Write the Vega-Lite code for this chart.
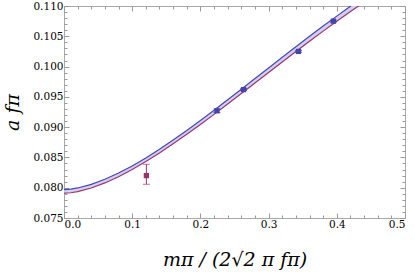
{
  "$schema": "https://vega.github.io/schema/vega-lite/v6.json",
  "width": 341,
  "height": 212,
  "autosize": {"type": "none"},
  "padding": {"left": 64, "top": 6, "right": 10, "bottom": 58},
  "background": "white",
  "config": {
    "view": {"stroke": "#a8a8a8", "strokeWidth": 1},
    "axis": {"grid": false, "tickColor": "#9a9a9a", "domain": false}
  },
  "datasets": {
    "curve": [
      {"x": 0.0, "upper": 0.0797, "lower": 0.0791},
      {"x": 0.01, "upper": 0.07977, "lower": 0.07917},
      {"x": 0.02, "upper": 0.07996, "lower": 0.07936},
      {"x": 0.04, "upper": 0.08055, "lower": 0.07995},
      {"x": 0.06, "upper": 0.08139, "lower": 0.08079},
      {"x": 0.08, "upper": 0.08242, "lower": 0.08182},
      {"x": 0.10, "upper": 0.0836, "lower": 0.083},
      {"x": 0.12, "upper": 0.08492, "lower": 0.08432},
      {"x": 0.14, "upper": 0.08634, "lower": 0.08574},
      {"x": 0.16, "upper": 0.08786, "lower": 0.08724},
      {"x": 0.18, "upper": 0.08945, "lower": 0.08881},
      {"x": 0.20, "upper": 0.0911, "lower": 0.09044},
      {"x": 0.22, "upper": 0.09279, "lower": 0.09211},
      {"x": 0.24, "upper": 0.09451, "lower": 0.09381},
      {"x": 0.26, "upper": 0.09626, "lower": 0.09554},
      {"x": 0.28, "upper": 0.09802, "lower": 0.09728},
      {"x": 0.30, "upper": 0.09978, "lower": 0.09902},
      {"x": 0.32, "upper": 0.10153, "lower": 0.10075},
      {"x": 0.34, "upper": 0.10328, "lower": 0.10248},
      {"x": 0.36, "upper": 0.105, "lower": 0.10418},
      {"x": 0.38, "upper": 0.10669, "lower": 0.10585},
      {"x": 0.40, "upper": 0.10833, "lower": 0.10747},
      {"x": 0.42, "upper": 0.10997, "lower": 0.10909},
      {"x": 0.44, "upper": 0.11152, "lower": 0.11062},
      {"x": 0.46, "upper": 0.1131, "lower": 0.1121}
    ],
    "points": [
      {"x": 0.1208, "y": 0.0820, "lo": 0.08057, "hi": 0.08387, "series": "a"},
      {"x": 0.2243, "y": 0.0927, "lo": 0.0924, "hi": 0.0930, "series": "b"},
      {"x": 0.2633, "y": 0.0962, "lo": 0.09605, "hi": 0.09635, "series": "b"},
      {"x": 0.3438, "y": 0.1025, "lo": 0.10235, "hi": 0.10265, "series": "b"},
      {"x": 0.395, "y": 0.1075, "lo": 0.10735, "hi": 0.10765, "series": "b"}
    ]
  },
  "resolve": {"axis": {"x": "independent", "y": "independent"}},
  "layer": [
    {
      "data": {"name": "curve"},
      "mark": {"type": "area", "clip": true, "color": "#d0d0f0"},
      "encoding": {
        "x": {"field": "x", "type": "quantitative", "scale": {"domain": [0, 0.5], "nice": false, "zero": false},
              "axis": {"orient": "bottom", "values": [0, 0.1, 0.2, 0.3, 0.4, 0.5], "format": ".1f", "tickSize": -5, "labelPadding": 6,
                       "labelFont": "DejaVu Serif", "labelFontSize": 10.5, "labelColor": "black",
                       "title": "mπ / (2√2 π fπ)", "titleFont": "DejaVu Serif", "titleFontSize": 19, "titlePadding": 21, "titleFontStyle": "italic", "titleFontWeight": "normal", "titleColor": "black"}},
        "y": {"field": "upper", "type": "quantitative", "scale": {"domain": [0.075, 0.11], "nice": false, "zero": false},
              "axis": {"orient": "left", "values": [0.075, 0.08, 0.085, 0.09, 0.095, 0.1, 0.105, 0.11], "format": ".3f", "tickSize": -5, "labelPadding": 6,
                       "labelFont": "DejaVu Serif", "labelFontSize": 10.5, "labelColor": "black",
                       "title": "a fπ", "titleFont": "DejaVu Serif", "titleFontSize": 19, "titlePadding": 10, "titleFontStyle": "italic", "titleFontWeight": "normal", "titleColor": "black"}},
        "y2": {"field": "lower"}
      }
    },
    {
      "data": {"name": "curve"},
      "mark": {"type": "line", "clip": true, "color": "#4646b4", "strokeWidth": 1.2},
      "encoding": {
        "x": {"field": "x", "type": "quantitative", "axis": {"orient": "bottom", "values": [0.02, 0.04, 0.06, 0.08, 0.12, 0.14, 0.16, 0.18, 0.22, 0.24, 0.26, 0.28, 0.32, 0.34, 0.36, 0.38, 0.42, 0.44, 0.46, 0.48], "labels": false, "tickSize": -3, "title": null}},
        "y": {"field": "upper", "type": "quantitative", "axis": {"orient": "left", "values": [0.076, 0.077, 0.078, 0.079, 0.081, 0.082, 0.083, 0.084, 0.086, 0.087, 0.088, 0.089, 0.091, 0.092, 0.093, 0.094, 0.096, 0.097, 0.098, 0.099, 0.101, 0.102, 0.103, 0.104, 0.106, 0.107, 0.108, 0.109], "labels": false, "tickSize": -3, "title": null}}
      }
    },
    {
      "data": {"name": "curve"},
      "mark": {"type": "line", "clip": true, "color": "#a0336f", "strokeWidth": 1.2},
      "encoding": {
        "x": {"field": "x", "type": "quantitative", "axis": {"orient": "top", "values": [0, 0.1, 0.2, 0.3, 0.4, 0.5], "labels": false, "tickSize": -5, "title": null}},
        "y": {"field": "lower", "type": "quantitative", "axis": {"orient": "right", "values": [0.075, 0.08, 0.085, 0.09, 0.095, 0.1, 0.105, 0.11], "labels": false, "tickSize": -5, "title": null}}
      }
    },
    {
      "data": {"name": "points"},
      "mark": {"type": "errorbar", "ticks": {"size": 7}, "thickness": 1},
      "encoding": {
        "x": {"field": "x", "type": "quantitative", "axis": {"orient": "top", "values": [0.02, 0.04, 0.06, 0.08, 0.12, 0.14, 0.16, 0.18, 0.22, 0.24, 0.26, 0.28, 0.32, 0.34, 0.36, 0.38, 0.42, 0.44, 0.46, 0.48], "labels": false, "tickSize": -3, "title": null}},
        "y": {"field": "lo", "type": "quantitative", "axis": {"orient": "right", "values": [0.076, 0.077, 0.078, 0.079, 0.081, 0.082, 0.083, 0.084, 0.086, 0.087, 0.088, 0.089, 0.091, 0.092, 0.093, 0.094, 0.096, 0.097, 0.098, 0.099, 0.101, 0.102, 0.103, 0.104, 0.106, 0.107, 0.108, 0.109], "labels": false, "tickSize": -3, "title": null}},
        "y2": {"field": "hi"},
        "color": {"field": "series", "type": "nominal", "scale": {"domain": ["a", "b"], "range": ["#98356f", "#4444aa"]}, "legend": null}
      }
    },
    {
      "data": {"name": "points"},
      "mark": {"type": "square", "size": 28, "opacity": 1},
      "encoding": {
        "x": {"field": "x", "type": "quantitative", "axis": null},
        "y": {"field": "y", "type": "quantitative", "axis": null},
        "color": {"field": "series", "type": "nominal", "scale": {"domain": ["a", "b"], "range": ["#98356f", "#4444aa"]}, "legend": null}
      }
    }
  ]
}
